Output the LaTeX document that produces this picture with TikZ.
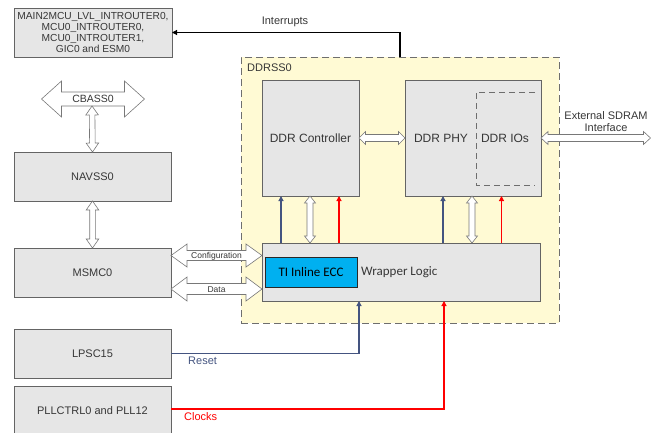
\documentclass[tikz,border=0pt]{standalone}
\usepackage{fontspec}
\setmainfont{Liberation Sans}
\newfontfamily\calibrifont{Carlito}
\usetikzlibrary{arrows.meta,calc}
\definecolor{boxfill}{RGB}{230,230,230}
\definecolor{boxline}{RGB}{100,100,100}
\definecolor{txtgray}{RGB}{55,55,55}
\definecolor{ddryellow}{RGB}{255,250,212}
\definecolor{dashgray}{RGB}{110,110,110}
\definecolor{eccblue}{RGB}{0,176,240}
\definecolor{rstblue}{RGB}{68,84,128}
\definecolor{clkred}{RGB}{255,0,0}
\definecolor{arrgray}{RGB}{120,120,120}
% hollow double block arrow between two named coordinates:
% #1 start, #2 end, #3 shaft half width, #4 head half width, #5 head length
\newcommand\hollowdbl[5]{%
  \path ($(#1)!#5!(#2)$) coordinate (hA) ($(#2)!#5!(#1)$) coordinate (hB);
  \draw[hollowline] (#1) -- ($(hA)!#4!90:(#2)$) -- ($(hA)!#3!90:(#2)$)
    -- ($(hB)!#3!-90:(#1)$) -- ($(hB)!#4!-90:(#1)$) -- (#2)
    -- ($(hB)!#4!90:(#1)$) -- ($(hB)!#3!90:(#1)$)
    -- ($(hA)!#3!-90:(#2)$) -- ($(hA)!#4!-90:(#2)$) -- cycle;
}
\begin{document}
\begin{tikzpicture}[x=1pt,y=-1pt,
  box/.style={draw=boxline, fill=boxfill, line width=0.8pt, inner sep=0pt, outer sep=0pt,
    text=txtgray, align=center, font=\fontsize{11}{13}\selectfont},
  hollowline/.style={draw=arrgray, fill=white, line width=0.6pt, line join=miter},
  sigline/.style={line width=1.1pt, -{Triangle[length=5pt,width=5pt]}},
  lbl/.style={font=\fontsize{11}{13}\selectfont, inner sep=0pt, text=txtgray},
  bigtxt/.style={font=\fontsize{12}{14}\selectfont, inner sep=0pt, text=txtgray},
  calitxt/.style={font=\calibrifont\fontsize{13}{15}\selectfont, inner sep=0pt},
]
\clip (0,0) rectangle (651,432);

% DDRSS0 region
\node[draw=dashgray, fill=ddryellow, dash pattern=on 7pt off 4pt, line width=0.8pt,
  minimum width=318pt, minimum height=266pt, inner sep=0pt, outer sep=0pt] (ddrss) at (400,190) {};
\node[lbl, anchor=west] (ddrsslbl) at (247,68) {DDRSS0};

% left column
\node[box, font=\fontsize{10.2}{11}\selectfont, minimum width=158pt, minimum height=49pt] (intr) at (93,32.5)
  {MAIN2MCU\_LVL\_INTROUTER0,\\MCU0\_INTROUTER0,\\MCU0\_INTROUTER1,\\GIC0 and ESM0};
\node[box, minimum width=157pt, minimum height=49pt] (navss) at (92.5,176.5) {NAVSS0};
\node[box, minimum width=157pt, minimum height=49pt] (msmc) at (92.5,272.5) {MSMC0};
\node[box, minimum width=157pt, minimum height=49pt] (lpsc) at (92.5,353.5) {LPSC15};
\node[box, minimum width=157pt, minimum height=49pt] (pll) at (92.5,410.5) {PLLCTRL0 and PLL12};

% DDR blocks
\node[box, font=\fontsize{12}{14}\selectfont, minimum width=97pt, minimum height=116pt] (ctrl) at (310.5,138) {DDR Controller};
\node[box, minimum width=136pt, minimum height=116pt] (phy) at (473,138) {};
\draw[dashgray, dash pattern=on 6pt off 4pt, line width=0.8pt] (535,92) -- (476,92) -- (476,185) -- (535,185);
\node[bigtxt] (phytxt) at (441,138) {DDR PHY};
\node[bigtxt] (iotxt) at (505,138) {DDR IOs};

\node[box, minimum width=278pt, minimum height=58pt] (wrap) at (401,272) {};
\node[draw={rgb,255:red,40;green,40;blue,40}, fill=eccblue, line width=0.8pt, minimum width=92pt, minimum height=30pt,
  inner sep=0pt, outer sep=0pt, calitxt, text=black] (ecc) at (311,272) {TI Inline ECC};
\node[calitxt, anchor=west, text=txtgray] (wraptxt) at (361,272) {Wrapper Logic};

% end points of the hollow arrows
\coordinate (cbL) at (41.5,99);
\coordinate (cbR) at (144.5,99);
\coordinate (cbB) at (92,106);
\coordinate (cfgA) at (msmc.east |- 0,255.5);
\coordinate (cfgB) at (wrap.west |- 0,255.5);
\coordinate (datA) at (msmc.east |- 0,289);
\coordinate (datB) at (wrap.west |- 0,289);
\coordinate (extB) at (650.5,138);
\coordinate (cwA) at (ctrl.south -| 310,0);
\coordinate (cwB) at (wrap.north -| 310,0);
\coordinate (pwA) at (phy.south -| 472,0);
\coordinate (pwB) at (wrap.north -| 472,0);

% hollow arrows
\hollowdbl{cbL}{cbR}{7pt}{18pt}{20pt}
\hollowdbl{cbB}{navss.north}{2.8pt}{6.3pt}{9pt}
\hollowdbl{navss.south}{msmc.north}{2.8pt}{6.3pt}{9pt}
\hollowdbl{cfgA}{cfgB}{5pt}{11.5pt}{16pt}
\hollowdbl{datA}{datB}{5.5pt}{12pt}{16pt}
\hollowdbl{ctrl.east}{phy.west}{3.5pt}{6.5pt}{6.5pt}
\hollowdbl{phy.east}{extB}{3.5pt}{6.5pt}{7pt}
\hollowdbl{cwA}{cwB}{3pt}{5.5pt}{7pt}
\hollowdbl{pwA}{pwB}{3pt}{5.5pt}{7pt}

% labels on hollow arrows
\node[inner sep=0pt, anchor=base, text=txtgray, font=\fontsize{10.5}{12}\selectfont] (cbtxt) at ($(cbL)!.5!(cbR)+(0,3.9)$) {CBASS0};
\node[inner sep=0pt, anchor=base, text=txtgray, font=\fontsize{8.5}{10}\selectfont] (cfgtxt) at ($(cfgA)!.5!(cfgB)+(0,2.6)$) {Configuration};
\node[inner sep=0pt, anchor=base, text=txtgray, font=\fontsize{8.5}{10}\selectfont] (dattxt) at ($(datA)!.5!(datB)+(0,3)$) {Data};

% signal lines
\draw[sigline, rstblue] (wrap.north -| 281,0) -- (ctrl.south -| 281,0);
\draw[sigline, clkred] (wrap.north -| 339,0) -- (ctrl.south -| 339,0);
\draw[sigline, rstblue] (wrap.north -| 443,0) -- (phy.south -| 443,0);
\draw[sigline, clkred] (wrap.north -| 501.5,0) -- (phy.south -| 501.5,0);
\draw[sigline, rstblue] (lpsc.east) -| (wrap.south -| 359,0);
\draw[sigline, clkred] (pll.east |- 0,409) -| (wrap.south -| 444,0);
\draw[sigline, black] (ddrss.north -| 400,0) |- (intr.east);

% labels
\node[lbl] (intlbl) at (285,22) {Interrupts};
\node[lbl, align=center, font=\fontsize{11}{12}\selectfont] (extlbl) at (606,122) {External SDRAM\\Interface};
\node[lbl, anchor=west, text=rstblue] (rstlbl) at (188,361) {Reset};
\node[lbl, anchor=west, text=clkred] (clklbl) at (184,417) {Clocks};
\end{tikzpicture}
\end{document}
